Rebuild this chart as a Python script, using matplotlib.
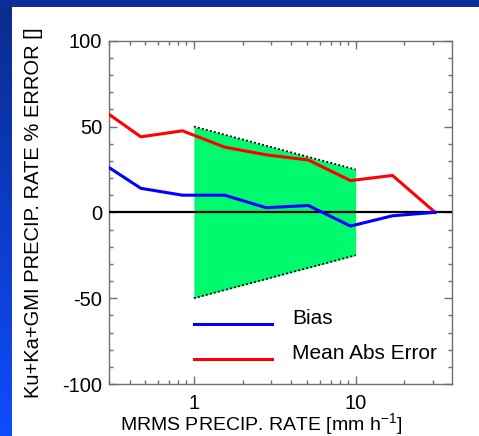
import numpy as np
import matplotlib
matplotlib.use("Agg")
import matplotlib.pyplot as plt
from matplotlib.colors import LinearSegmentedColormap
from matplotlib.patches import Rectangle
from matplotlib.ticker import LogLocator, FixedLocator, MultipleLocator, FuncFormatter

plt.rcParams['font.family'] = ['Liberation Sans', 'DejaVu Sans']
plt.rcParams['mathtext.fontset'] = 'custom'
plt.rcParams['mathtext.rm'] = 'Liberation Sans'
plt.rcParams['mathtext.default'] = 'regular'
plt.rcParams['axes.unicode_minus'] = False

# Precipitation-rate bins (mm/h) and error statistics (%)
rate = [0.30, 0.47, 0.85, 1.55, 2.8, 5.1, 9.3, 16.9, 31.0]
bias = [26, 14, 10, 10, 2.7, 4, -8, -2, 0]
mean_abs_error = [57, 44, 47.5, 38, 33.5, 30.5, 18.5, 21.5, 0]

# Target accuracy envelope between 1 and 10 mm/h
band_rate = [1, 10]
band_upper = [50, 25]
band_lower = [-50, -25]

y_ticks = [-100, -50, 0, 50, 100]
x_ticks = [1, 10]

W, H = 479, 436
fig = plt.figure(figsize=(W / 100, H / 100), dpi=100)

# Slide background: blue frame with a white panel
bg = fig.add_axes([0, 0, 1, 1])
bg.set_xlim(0, W)
bg.set_ylim(H, 0)
bg.axis('off')
cmap = LinearSegmentedColormap.from_list('slide', ['#0a2c8c', '#0f4cff'])
grad = np.linspace(0, 1, 256).reshape(-1, 1)
bg.imshow(grad, cmap=cmap, extent=[0, W, H, 0], aspect='auto')
bg.add_patch(Rectangle((0, 0), W, 7, color='#0a2f96', lw=0))
bg.add_patch(Rectangle((12, 7), W - 12, H - 7, color='white', lw=0))

ax = fig.add_axes([109.3 / W, 1 - 384 / H, 343 / W, 343.3 / H])
ax.set_xscale('log')
ax.set_xlim(0.30, 39.6)
ax.set_ylim(-100, 100)

ax.fill_between(band_rate, band_lower, band_upper, color='#00fa6e', lw=0, zorder=1)
ax.plot(band_rate, band_upper, color='black', lw=1.3, ls=(0, (1, 1.3)), zorder=2)
ax.plot(band_rate, band_lower, color='black', lw=1.3, ls=(0, (1, 1.3)), zorder=2)

ax.axhline(0, color='black', lw=1.6, zorder=3)
ax.plot(rate, mean_abs_error, color='#ff0000', lw=2.2, zorder=4)
ax.plot(rate, bias, color='#0000ff', lw=2.2, zorder=4)

# Legend drawn as line samples with labels sitting on their baseline
ax.plot([0.2455, 0.4755], [0.1748, 0.1748], color='#0000ff', lw=2.2,
        transform=ax.transAxes, clip_on=False)
ax.text(0.532, 0.1748, 'Bias', transform=ax.transAxes, fontsize=15,
        va='baseline', ha='left')
ax.plot([0.2455, 0.4755], [0.0728, 0.0728], color='#ff0000', lw=2.2,
        transform=ax.transAxes, clip_on=False)
ax.text(0.532, 0.0728, 'Mean Abs Error', transform=ax.transAxes, fontsize=15,
        va='baseline', ha='left')

for s in ax.spines.values():
    s.set_color('#707070')
    s.set_linewidth(1.0)

ax.yaxis.set_major_locator(FixedLocator(y_ticks))
ax.yaxis.set_minor_locator(MultipleLocator(10))
ax.xaxis.set_major_locator(FixedLocator(x_ticks))
ax.xaxis.set_minor_locator(LogLocator(base=10, subs=np.arange(2, 10)))
ax.xaxis.set_major_formatter(FuncFormatter(lambda v, p: f'{v:g}'))
ax.xaxis.set_minor_formatter(FuncFormatter(lambda v, p: ''))
ax.yaxis.set_major_formatter(FuncFormatter(lambda v, p: f'{v:g}'))

ax.tick_params(which='both', direction='in', top=True, right=True,
               color='#707070', width=1.0, labelsize=14.5, labelcolor='black')
ax.tick_params(axis='y', which='major', length=5.5, pad=5)
ax.tick_params(axis='y', which='minor', length=3)
ax.tick_params(axis='x', which='major', length=5.5, pad=7)
ax.tick_params(axis='x', which='minor', length=3)

fig.text(261 / W, 1 - 430 / H, 'MRMS PRECIP. RATE [mm h$^{-1}$]', fontsize=14,
         ha='center', va='baseline')
fig.text(34 / W, 1 - 213 / H, 'Ku+Ka+GMI PRECIP. RATE % ERROR []', fontsize=14.5,
         ha='center', va='center', rotation=90)

fig.savefig('out.png', dpi=100)
